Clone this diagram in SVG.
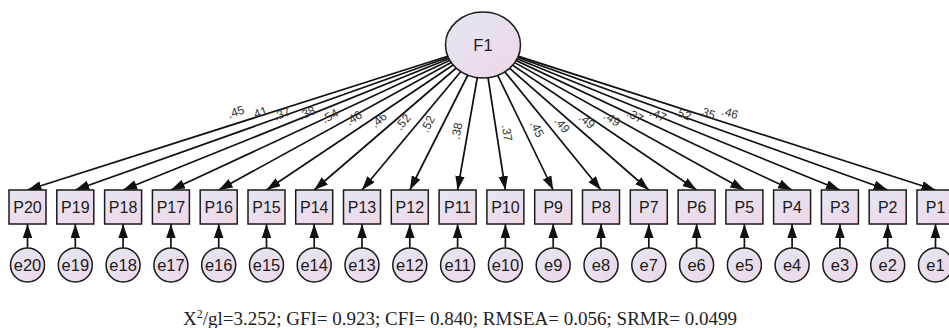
<svg xmlns="http://www.w3.org/2000/svg" width="949" height="328" viewBox="0 0 949 328">
<style>
.n{fill:url(#g);stroke:#1a1a1a;stroke-width:1.5}
.t{font-family:"Liberation Sans",Arial,sans-serif;fill:#1a1a1a;text-anchor:middle}
.p{font-size:16px}
.e{font-size:16.5px}
.c{stroke:#111;stroke-width:1.7;fill:none;marker-end:url(#a)}
.l{font-family:"Liberation Sans",Arial,sans-serif;font-size:12px;fill:#333;text-anchor:middle;dominant-baseline:central}
</style>
<defs>
<linearGradient id="g" x1="0" y1="0" x2="1" y2="1">
<stop offset="0" stop-color="#e4e7f3"/>
<stop offset="1" stop-color="#f0d6e6"/>
</linearGradient>
<marker id="a" markerUnits="userSpaceOnUse" markerWidth="15" markerHeight="10" refX="14" refY="4.75" orient="auto">
<path d="M0,0 L14,4.75 L0,9.5 z" fill="#111"/>
</marker>
</defs>
<g id="connectors">
<line class="c" x1="483" y1="45" x2="27.5" y2="190"/>
<line class="c" x1="483" y1="45" x2="75.3" y2="190"/>
<line class="c" x1="483" y1="45" x2="123.1" y2="190"/>
<line class="c" x1="483" y1="45" x2="170.9" y2="190"/>
<line class="c" x1="483" y1="45" x2="218.7" y2="190"/>
<line class="c" x1="483" y1="45" x2="266.5" y2="190"/>
<line class="c" x1="483" y1="45" x2="314.2" y2="190"/>
<line class="c" x1="483" y1="45" x2="362" y2="190"/>
<line class="c" x1="483" y1="45" x2="409.8" y2="190"/>
<line class="c" x1="483" y1="45" x2="457.6" y2="190"/>
<line class="c" x1="483" y1="45" x2="505.4" y2="190"/>
<line class="c" x1="483" y1="45" x2="553.2" y2="190"/>
<line class="c" x1="483" y1="45" x2="601" y2="190"/>
<line class="c" x1="483" y1="45" x2="648.8" y2="190"/>
<line class="c" x1="483" y1="45" x2="696.6" y2="190"/>
<line class="c" x1="483" y1="45" x2="744.4" y2="190"/>
<line class="c" x1="483" y1="45" x2="792.1" y2="190"/>
<line class="c" x1="483" y1="45" x2="839.9" y2="190"/>
<line class="c" x1="483" y1="45" x2="887.7" y2="190"/>
<line class="c" x1="483" y1="45" x2="935.5" y2="190"/>
<line class="c" x1="27.5" y1="248" x2="27.5" y2="224"/>
<line class="c" x1="75.3" y1="248" x2="75.3" y2="224"/>
<line class="c" x1="123.1" y1="248" x2="123.1" y2="224"/>
<line class="c" x1="170.9" y1="248" x2="170.9" y2="224"/>
<line class="c" x1="218.7" y1="248" x2="218.7" y2="224"/>
<line class="c" x1="266.5" y1="248" x2="266.5" y2="224"/>
<line class="c" x1="314.2" y1="248" x2="314.2" y2="224"/>
<line class="c" x1="362" y1="248" x2="362" y2="224"/>
<line class="c" x1="409.8" y1="248" x2="409.8" y2="224"/>
<line class="c" x1="457.6" y1="248" x2="457.6" y2="224"/>
<line class="c" x1="505.4" y1="248" x2="505.4" y2="224"/>
<line class="c" x1="553.2" y1="248" x2="553.2" y2="224"/>
<line class="c" x1="601" y1="248" x2="601" y2="224"/>
<line class="c" x1="648.8" y1="248" x2="648.8" y2="224"/>
<line class="c" x1="696.6" y1="248" x2="696.6" y2="224"/>
<line class="c" x1="744.4" y1="248" x2="744.4" y2="224"/>
<line class="c" x1="792.1" y1="248" x2="792.1" y2="224"/>
<line class="c" x1="839.9" y1="248" x2="839.9" y2="224"/>
<line class="c" x1="887.7" y1="248" x2="887.7" y2="224"/>
<line class="c" x1="935.5" y1="248" x2="935.5" y2="224"/>
</g>
<g id="labels">
<text class="l" x="236" y="112" transform="rotate(-17.7 236 112)">.45</text>
<text class="l" x="259" y="113" transform="rotate(-19.6 259 113)">.41</text>
<text class="l" x="282" y="114" transform="rotate(-21.9 282 114)">.37</text>
<text class="l" x="307" y="113" transform="rotate(-24.9 307 113)">.38</text>
<text class="l" x="330" y="116" transform="rotate(-28.8 330 116)">.54</text>
<text class="l" x="354" y="118" transform="rotate(-33.8 354 118)">.46</text>
<text class="l" x="379" y="120" transform="rotate(-40.7 379 120)">.46</text>
<text class="l" x="403" y="122" transform="rotate(-50.2 403 122)">.52</text>
<text class="l" x="428" y="124" transform="rotate(-63.2 428 124)">.52</text>
<text class="l" x="457" y="131" transform="rotate(-80.1 457 131)">.38</text>
<text class="l" x="507" y="133" transform="rotate(81.2 507 133)">.37</text>
<text class="l" x="537" y="129" transform="rotate(64.2 537 129)">.45</text>
<text class="l" x="562" y="125" transform="rotate(50.9 562 125)">.49</text>
<text class="l" x="587" y="121" transform="rotate(41.2 587 121)">.49</text>
<text class="l" x="612" y="119" transform="rotate(34.2 612 119)">.49</text>
<text class="l" x="635" y="116" transform="rotate(29 635 116)">.37</text>
<text class="l" x="658" y="115" transform="rotate(25.1 658 115)">.47</text>
<text class="l" x="683" y="114" transform="rotate(22.1 683 114)">.52</text>
<text class="l" x="707" y="113" transform="rotate(19.7 707 113)">.35</text>
<text class="l" x="730" y="113" transform="rotate(17.8 730 113)">.46</text>
</g>
<g id="F1"><ellipse class="n" cx="483" cy="45" rx="37.5" ry="33"/><text class="t e" x="483" y="51">F1</text></g>
<g id="P20"><rect class="n" x="9" y="190" width="37" height="34"/><text class="t p" x="27.5" y="212.8">P20</text></g>
<g id="P19"><rect class="n" x="56.8" y="190" width="37" height="34"/><text class="t p" x="75.3" y="212.8">P19</text></g>
<g id="P18"><rect class="n" x="104.6" y="190" width="37" height="34"/><text class="t p" x="123.1" y="212.8">P18</text></g>
<g id="P17"><rect class="n" x="152.4" y="190" width="37" height="34"/><text class="t p" x="170.9" y="212.8">P17</text></g>
<g id="P16"><rect class="n" x="200.2" y="190" width="37" height="34"/><text class="t p" x="218.7" y="212.8">P16</text></g>
<g id="P15"><rect class="n" x="248" y="190" width="37" height="34"/><text class="t p" x="266.5" y="212.8">P15</text></g>
<g id="P14"><rect class="n" x="295.7" y="190" width="37" height="34"/><text class="t p" x="314.2" y="212.8">P14</text></g>
<g id="P13"><rect class="n" x="343.5" y="190" width="37" height="34"/><text class="t p" x="362" y="212.8">P13</text></g>
<g id="P12"><rect class="n" x="391.3" y="190" width="37" height="34"/><text class="t p" x="409.8" y="212.8">P12</text></g>
<g id="P11"><rect class="n" x="439.1" y="190" width="37" height="34"/><text class="t p" x="457.6" y="212.8">P11</text></g>
<g id="P10"><rect class="n" x="486.9" y="190" width="37" height="34"/><text class="t p" x="505.4" y="212.8">P10</text></g>
<g id="P9"><rect class="n" x="534.7" y="190" width="37" height="34"/><text class="t p" x="553.2" y="212.8">P9</text></g>
<g id="P8"><rect class="n" x="582.5" y="190" width="37" height="34"/><text class="t p" x="601" y="212.8">P8</text></g>
<g id="P7"><rect class="n" x="630.3" y="190" width="37" height="34"/><text class="t p" x="648.8" y="212.8">P7</text></g>
<g id="P6"><rect class="n" x="678.1" y="190" width="37" height="34"/><text class="t p" x="696.6" y="212.8">P6</text></g>
<g id="P5"><rect class="n" x="725.9" y="190" width="37" height="34"/><text class="t p" x="744.4" y="212.8">P5</text></g>
<g id="P4"><rect class="n" x="773.6" y="190" width="37" height="34"/><text class="t p" x="792.1" y="212.8">P4</text></g>
<g id="P3"><rect class="n" x="821.4" y="190" width="37" height="34"/><text class="t p" x="839.9" y="212.8">P3</text></g>
<g id="P2"><rect class="n" x="869.2" y="190" width="37" height="34"/><text class="t p" x="887.7" y="212.8">P2</text></g>
<g id="P1"><rect class="n" x="917" y="190" width="37" height="34"/><text class="t p" x="935.5" y="212.8">P1</text></g>
<g id="e20"><circle class="n" cx="27.5" cy="265" r="17"/><text class="t e" x="27.5" y="270.9">e20</text></g>
<g id="e19"><circle class="n" cx="75.3" cy="265" r="17"/><text class="t e" x="75.3" y="270.9">e19</text></g>
<g id="e18"><circle class="n" cx="123.1" cy="265" r="17"/><text class="t e" x="123.1" y="270.9">e18</text></g>
<g id="e17"><circle class="n" cx="170.9" cy="265" r="17"/><text class="t e" x="170.9" y="270.9">e17</text></g>
<g id="e16"><circle class="n" cx="218.7" cy="265" r="17"/><text class="t e" x="218.7" y="270.9">e16</text></g>
<g id="e15"><circle class="n" cx="266.5" cy="265" r="17"/><text class="t e" x="266.5" y="270.9">e15</text></g>
<g id="e14"><circle class="n" cx="314.2" cy="265" r="17"/><text class="t e" x="314.2" y="270.9">e14</text></g>
<g id="e13"><circle class="n" cx="362" cy="265" r="17"/><text class="t e" x="362" y="270.9">e13</text></g>
<g id="e12"><circle class="n" cx="409.8" cy="265" r="17"/><text class="t e" x="409.8" y="270.9">e12</text></g>
<g id="e11"><circle class="n" cx="457.6" cy="265" r="17"/><text class="t e" x="457.6" y="270.9">e11</text></g>
<g id="e10"><circle class="n" cx="505.4" cy="265" r="17"/><text class="t e" x="505.4" y="270.9">e10</text></g>
<g id="e9"><circle class="n" cx="553.2" cy="265" r="17"/><text class="t e" x="553.2" y="270.9">e9</text></g>
<g id="e8"><circle class="n" cx="601" cy="265" r="17"/><text class="t e" x="601" y="270.9">e8</text></g>
<g id="e7"><circle class="n" cx="648.8" cy="265" r="17"/><text class="t e" x="648.8" y="270.9">e7</text></g>
<g id="e6"><circle class="n" cx="696.6" cy="265" r="17"/><text class="t e" x="696.6" y="270.9">e6</text></g>
<g id="e5"><circle class="n" cx="744.4" cy="265" r="17"/><text class="t e" x="744.4" y="270.9">e5</text></g>
<g id="e4"><circle class="n" cx="792.1" cy="265" r="17"/><text class="t e" x="792.1" y="270.9">e4</text></g>
<g id="e3"><circle class="n" cx="839.9" cy="265" r="17"/><text class="t e" x="839.9" y="270.9">e3</text></g>
<g id="e2"><circle class="n" cx="887.7" cy="265" r="17"/><text class="t e" x="887.7" y="270.9">e2</text></g>
<g id="e1"><circle class="n" cx="935.5" cy="265" r="17"/><text class="t e" x="935.5" y="270.9">e1</text></g>
<text x="460" y="325" font-family="'Liberation Serif','Times New Roman',serif" font-size="19" fill="#222" text-anchor="middle">X<tspan font-size="12" dy="-7">2</tspan><tspan dy="7">/gl=3.252; GFI= 0.923; CFI= 0.840; RMSEA= 0.056; SRMR= 0.0499</tspan></text>
</svg>
